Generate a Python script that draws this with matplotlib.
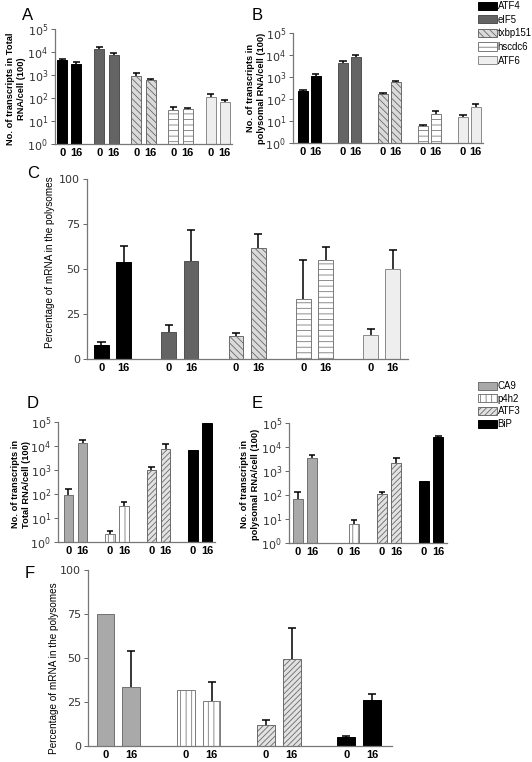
import numpy as np
import matplotlib
matplotlib.use("Agg")
import matplotlib.pyplot as plt
from matplotlib.patches import Patch

plt.rcParams['font.family'] = ['Liberation Sans', 'DejaVu Sans']
plt.rcParams['mathtext.fontset'] = 'dejavusans'
plt.rcParams['mathtext.default'] = 'regular'
plt.rcParams['hatch.linewidth'] = 0.6

W, H = 532, 762

# ---- data: upper block (panels A, B, C) ----
genes_top = ["ATF4", "eIF5", "txbp151", "hscdc6", "ATF6"]
hours = ["0", "16"]

total_top = [[4300, 3100], [13800, 7200], [930, 590], [29, 33], [115, 65]]
total_top_err = [[800, 400], [3200, 1700], [300, 50], [10, 3], [35, 20]]

poly_top = [[240, 1150], [4300, 8100], [170, 570], [5.7, 21], [15, 43]]
poly_top_err = [[25, 250], [800, 2300], [15, 110], [1.1, 7], [4.5, 16]]

pct_top = [[7.7, 53.9], [14.9, 54.6], [12.9, 61.6], [33.6, 55.1], [13.2, 50.2]]
pct_top_err = [[1.5, 8.8], [4.2, 16.9], [1.3, 8.1], [21.4, 7.2], [3.7, 10.5]]

# ---- data: lower block (panels D, E, F) ----
genes_bot = ["CA9", "p4h2", "ATF3", "BiP"]

total_bot = [[88, 13800], [2.2, 33], [1030, 7300], [7000, 94000]]
total_bot_err = [[79, 3400], [0.7, 15], [310, 4400], [0, 0]]

poly_bot = [[66, 3400], [np.nan, 6], [106, 2240], [400, 26000]]
poly_bot_err = [[62, 1200], [0, 3.5], [22, 1160], [0, 3000]]

pct_bot = [[74.8, 33.7], [31.6, 25.8], [11.7, 49.2], [5.1, 26.3]]
pct_bot_err = [[0, 20.5], [0, 10.4], [3.3, 17.8], [0.4, 3.4]]

# bar looks: face colour, edge/hatch colour, hatch
style_top = [
    ("#000000", "#000000", ""),
    ("#646464", "#505050", ""),
    ("#dadada", "#6a6a6a", "\\\\\\\\\\"),
    ("#ffffff", "#7a7a7a", "---"),
    ("#eeeeee", "#8a8a8a", ""),
]
style_bot = [
    ("#a9a9a9", "#707070", ""),
    ("#ffffff", "#7a7a7a", "|||"),
    ("#e2e2e2", "#6a6a6a", "//////"),
    ("#000000", "#000000", ""),
]

fig = plt.figure(figsize=(W / 100, H / 100), dpi=100)


def px_axes(left, top, right, bottom):
    return fig.add_axes([left / W, 1 - bottom / H, (right - left) / W, (bottom - top) / H])


def draw_panel(box, values, errors, styles, xlim, off, width, log, cap):
    ax = px_axes(*box)
    xpos, xlab = [], []
    for i, (vals, errs, st) in enumerate(zip(values, errors, styles)):
        xs = [i - off, i + off]
        face, edge, hatch = st
        ax.bar(xs, vals, width=width, color=face, edgecolor=edge,
               hatch=hatch, linewidth=0.7)
        for x, v, e in zip(xs, vals, errs):
            if np.isfinite(v) and e > 0:
                ax.vlines(x, v, v + e, color="k", lw=1.1)
                ax.hlines(v + e, x - cap, x + cap, color="k", lw=1.1)
        xpos += xs
        xlab += hours
    ax.set_xlim(*xlim)
    ax.set_xticks(xpos)
    ax.set_xticklabels(xlab, fontweight="bold", fontsize=8)
    ax.tick_params(axis="x", length=0, pad=3)
    if log:
        ax.set_yscale("log")
        ax.set_ylim(1, 1e5)
        ticks = [10 ** k for k in range(6)]
        ax.set_yticks(ticks)
        ax.set_yticklabels([f"$10^{{{k}}}$" for k in range(6)],
                           fontsize=8, family="DejaVu Sans")
        ax.yaxis.set_minor_locator(plt.NullLocator())
    else:
        ax.set_ylim(0, 100)
        ax.set_yticks([0, 25, 50, 75, 100])
        ax.set_yticklabels(["0", "25", "50", "75", "100"], fontsize=8,
                           family="DejaVu Sans")
    ax.tick_params(axis="y", length=3, width=0.7, color="#666666",
                   labelcolor="#333333", pad=2)
    for s in ("top", "right"):
        ax.spines[s].set_visible(False)
    for s in ("left", "bottom"):
        ax.spines[s].set_color("#777777")
        ax.spines[s].set_linewidth(0.9)
    return ax


draw_panel((55, 29, 232, 144), total_top, total_top_err, style_top,
           (-0.39, 4.39), 0.19, 0.27, True, 0.1)
draw_panel((293, 33, 483, 143), poly_top, poly_top_err, style_top,
           (-0.41, 4.34), 0.16, 0.24, True, 0.09)
draw_panel((87, 179, 408, 359), pct_top, pct_top_err, style_top,
           (-0.38, 4.39), 0.165, 0.22, False, 0.06)
draw_panel((58, 422, 215, 542), total_bot, total_bot_err, style_bot,
           (-0.42, 3.36), 0.17, 0.23, True, 0.08)
draw_panel((289, 423, 447, 543), poly_bot, poly_bot_err, style_bot,
           (-0.38, 3.38), 0.17, 0.24, True, 0.08)
draw_panel((88, 570, 392, 746), pct_bot, pct_bot_err, style_bot,
           (-0.38, 3.41), 0.16, 0.22, False, 0.05)

# axis titles
ylabels = [
    (16, 89, "No. of transcripts in Total\nRNA/cell (100)", "bold", 6.7),
    (256, 88, "No. of transcripts in\npolysomal RNA/cell (100)", "bold", 6.7),
    (50, 262, "Percentage of mRNA in the polysomes", "normal", 7.2),
    (21, 484, "No. of transcripts in\nTotal RNA/cell (100)", "bold", 6.7),
    (250, 484, "No. of transcripts in\npolysomal RNA/cell (100)", "bold", 6.7),
    (54, 668, "Percentage of mRNA in the polysomes", "normal", 7.2),
]
for x, y, txt, wt, fs in ylabels:
    fig.text(x / W, 1 - y / H, txt, rotation=90, ha="center", va="center",
             fontsize=fs, fontweight=wt, linespacing=1.2)

# panel letters
for x, y, letter in [(28, 15, "A"), (257, 15, "B"), (33, 173, "C"),
                     (33, 403, "D"), (257, 403, "E"), (30, 573, "F")]:
    fig.text(x / W, 1 - y / H, letter, ha="center", va="center", fontsize=12)

# legends
handles_top = [Patch(facecolor=f, edgecolor=e, hatch=h, linewidth=0.7)
               for f, e, h in style_top]
fig.legend(handles_top, genes_top, loc="upper left",
           bbox_to_anchor=(477 / W, 1 - 0 / H), frameon=False, fontsize=6.9,
           handlelength=1.95, handleheight=0.95, handletextpad=0.1,
           labelspacing=0.38, borderpad=0.1, borderaxespad=0)

handles_bot = [Patch(facecolor=f, edgecolor=e, hatch=h, linewidth=0.7)
               for f, e, h in style_bot]
fig.legend(handles_bot, genes_bot, loc="upper left",
           bbox_to_anchor=(477 / W, 1 - 380 / H), frameon=False, fontsize=6.9,
           handlelength=1.95, handleheight=0.95, handletextpad=0.1,
           labelspacing=0.28, borderpad=0.1, borderaxespad=0)

fig.savefig("out.png", dpi=100)
